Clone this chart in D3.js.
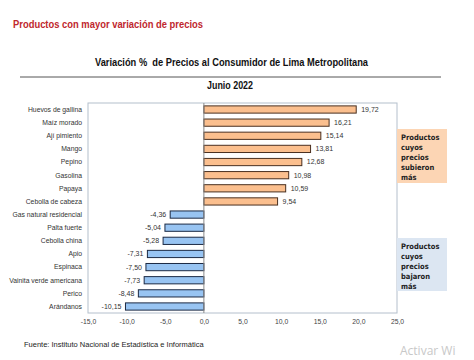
<!DOCTYPE html>
<html>
<head>
<meta charset="utf-8">
<script src="https://cdn.jsdelivr.net/npm/d3@7"></script>
<style>
  body { margin: 0; background: #fff; }
  svg { display: block; }
  text { white-space: pre; }
</style>
</head>
<body>
<div id="graph"></div>
<script>
// productos y variacion % (junio 2022)
const productos = ['Huevos de gallina', 'Maíz morado', 'Ají pimiento', 'Mango', 'Pepino', 'Gasolina',
  'Papaya', 'Cebolla de cabeza', 'Gas natural residencial', 'Palta fuerte', 'Cebolla china', 'Apio',
  'Espinaca', 'Vainita verde americana', 'Perico', 'Arándanos']
const variacion = [19.72, 16.21, 15.14, 13.81, 12.68, 10.98, 10.59, 9.54, -4.36, -5.04, -5.28, -7.31,
  -7.50, -7.73, -8.48, -10.15]
const ticks = [-15, -10, -5, 0, 5, 10, 15, 20, 25]

const width = 474, height = 360
const fmt = d => d3.format('.2f')(d).replace('.', ',').replace('−', '-')
const fmtTick = d => d3.format('.1f')(d).replace('.', ',').replace('−', '-')

const svg = d3.select('#graph').append('svg')
    .attr('width', width)
    .attr('height', height)
    .style('font-family', 'Liberation Sans, Arial, sans-serif')

// titulos
svg.append('text')
    .attr('x', 13).attr('y', 28)
    .attr('fill', '#c0272d')
    .attr('font-size', 11.5).attr('font-weight', 'bold')
    .attr('textLength', 190).attr('lengthAdjust', 'spacingAndGlyphs')
    .text('Productos con mayor variación de precios')

svg.append('text')
    .attr('x', 95).attr('y', 66)
    .attr('font-size', 10.5).attr('font-weight', 'bold').attr('fill', '#111')
    .attr('textLength', 273).attr('lengthAdjust', 'spacingAndGlyphs')
    .text('Variación %  de Precios al Consumidor de Lima Metropolitana')

svg.append('line')
    .attr('x1', 20).attr('x2', 441).attr('y1', 77).attr('y2', 77)
    .attr('stroke', '#555').attr('stroke-width', 1)

svg.append('text')
    .attr('x', 207).attr('y', 89)
    .attr('font-size', 10).attr('font-weight', 'bold').attr('fill', '#111')
    .attr('textLength', 46).attr('lengthAdjust', 'spacingAndGlyphs')
    .text('Junio 2022')

const x = d3.scaleLinear().domain([-15, 25]).range([88, 397])
const y = d3.scaleBand().domain(productos).range([103, 313]).paddingInner(0.45).paddingOuter(0.22)

// marco
svg.append('rect')
    .attr('x', x(-15)).attr('y', 103)
    .attr('width', x(25) - x(-15)).attr('height', 210)
    .attr('fill', 'none').attr('stroke', '#b4bfcc').attr('stroke-width', 1)

const g = svg.append('g')

g.selectAll('rect.bar')
    .data(variacion)
    .enter().append('rect')
    .attr('class', 'bar')
    .attr('x', d => x(Math.min(0, d)))
    .attr('y', (d, i) => y(productos[i]))
    .attr('width', d => Math.abs(x(d) - x(0)))
    .attr('height', y.bandwidth())
    .attr('fill', d => d > 0 ? '#fbbf8e' : '#98c4f2')
    .attr('stroke', d => d > 0 ? '#4a3020' : '#1c2a44')
    .attr('stroke-width', 1)

// eje cero
svg.append('line')
    .attr('x1', x(0)).attr('x2', x(0)).attr('y1', 103).attr('y2', 313)
    .attr('stroke', '#8a8a8a').attr('stroke-width', 1)

// etiquetas de valores
g.selectAll('text.val')
    .data(variacion)
    .enter().append('text')
    .attr('class', 'val')
    .attr('x', d => d > 0 ? x(d) + 5 : x(d) - 4)
    .attr('y', (d, i) => y(productos[i]) + y.bandwidth() / 2)
    .attr('dy', '0.35em')
    .attr('text-anchor', d => d > 0 ? 'start' : 'end')
    .attr('font-size', 7).attr('fill', '#333')
    .text(fmt)

// nombres de productos
g.selectAll('text.cat')
    .data(productos)
    .enter().append('text')
    .attr('class', 'cat')
    .attr('x', 82)
    .attr('y', d => y(d) + y.bandwidth() / 2)
    .attr('dy', '0.35em')
    .attr('text-anchor', 'end')
    .attr('font-size', 6.8).attr('fill', '#333')
    .text(d => d)

// eje x
const xAxis = svg.append('g')
    .attr('transform', 'translate(0,313)')
    .call(d3.axisBottom(x).tickValues(ticks).tickFormat(fmtTick).tickSize(0).tickPadding(6))
xAxis.select('.domain').remove()
xAxis.selectAll('text')
    .attr('font-size', 6.8).attr('fill', '#444')
    .style('font-family', 'Liberation Sans, Arial, sans-serif')

// cuadros de leyenda
const cajas = [
  { y: 129, h: 54, fill: '#fcd5b4', lines: ['Productos', 'cuyos', 'precios', 'subieron', 'más'] },
  { y: 238, h: 53, fill: '#dce6f2', lines: ['Productos', 'cuyos', 'precios', 'bajaron', 'más'] }
]
cajas.forEach(c => {
  svg.append('rect')
      .attr('x', 397).attr('y', c.y).attr('width', 50).attr('height', c.h)
      .attr('fill', c.fill)
  const t = svg.append('text')
      .attr('x', 401).attr('y', c.y + 11)
      .attr('font-size', 7.5).attr('font-weight', 'bold').attr('fill', '#222')
      .style('font-family', 'Liberation Sans Narrow, DejaVu Sans Condensed, sans-serif')
  c.lines.forEach((l, i) => {
    t.append('tspan').attr('x', 401).attr('dy', i === 0 ? 0 : 10).text(l)
  })
})

// fuente
svg.append('text')
    .attr('x', 24).attr('y', 347)
    .attr('font-size', 7.5).attr('fill', '#222')
    .text('Fuente: Instituto Nacional de Estadística e Informática')

svg.append('text')
    .attr('x', 400).attr('y', 355)
    .attr('font-size', 12).attr('fill', '#c8c8c8')
    .style('font-family', 'Open Sans, sans-serif')
    .text('Activar Wi')
</script>
</body>
</html>
